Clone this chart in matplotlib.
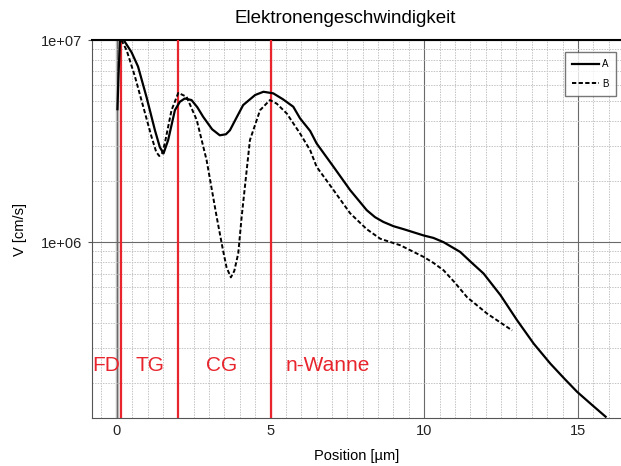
import numpy as np
import matplotlib
matplotlib.use("Agg")
import matplotlib.pyplot as plt
from matplotlib.ticker import FixedLocator, FuncFormatter, NullFormatter

plt.rcParams['font.family'] = ['Liberation Sans', 'DejaVu Sans']

# curve A (solid)
a_x = [0.02, 0.06, 0.10, 0.13, 0.30, 0.48, 0.69, 0.97, 1.24, 1.40, 1.52, 1.67, 1.89, 2.05,
       2.21, 2.43, 2.62, 2.81, 3.10, 3.35, 3.55, 3.68, 3.90, 4.11, 4.50, 4.77, 5.09, 5.40,
       5.74, 5.96, 6.29, 6.50, 7.05, 7.59, 8.13, 8.40, 8.67, 9.00, 9.33, 9.98, 10.30, 10.63,
       11.17, 11.55, 11.93, 12.48, 13.02, 13.56, 14.10, 14.55, 14.97, 15.45, 15.90]
a_y = [4.55e6, 7.0e6, 9.8e6, 1.05e7, 9.6e6, 8.7e6, 7.4e6, 5.2e6, 3.58e6, 2.95e6, 2.75e6,
       3.2e6, 4.5e6, 4.95e6, 5.14e6, 5.05e6, 4.65e6, 4.17e6, 3.62e6, 3.38e6, 3.42e6, 3.58e6,
       4.15e6, 4.77e6, 5.35e6, 5.55e6, 5.45e6, 5.1e6, 4.68e6, 4.1e6, 3.55e6, 3.08e6, 2.36e6,
       1.81e6, 1.44e6, 1.33e6, 1.26e6, 1.2e6, 1.16e6, 1.08e6, 1.05e6, 1.0e6, 8.95e5, 7.9e5,
       7.0e5, 5.47e5, 4.11e5, 3.15e5, 2.51e5, 2.12e5, 1.82e5, 1.57e5, 1.37e5]

# curve B (dashed)
b_x = [0.15, 0.32, 0.59, 0.86, 1.13, 1.28, 1.38, 1.47, 1.56, 1.78, 2.00, 2.27, 2.60, 2.92,
       3.25, 3.45, 3.57, 3.71, 3.82, 3.95, 4.06, 4.33, 4.66, 4.98, 5.20, 5.53, 5.96, 6.29,
       6.50, 7.05, 7.59, 8.13, 8.57, 9.22, 9.98, 10.30, 10.63, 11.00, 11.39, 12.04, 12.86]
b_y = [1.0e7, 8.9e6, 6.6e6, 4.68e6, 3.32e6, 2.8e6, 2.67e6, 2.75e6, 3.08e6, 4.5e6, 5.48e6,
       5.24e6, 4.02e6, 2.55e6, 1.33e6, 9.2e5, 7.5e5, 6.7e5, 7.2e5, 8.8e5, 1.33e6, 3.2e6,
       4.5e6, 5.05e6, 4.85e6, 4.33e6, 3.45e6, 2.85e6, 2.36e6, 1.81e6, 1.39e6, 1.16e6, 1.04e6,
       9.66e5, 8.46e5, 7.9e5, 7.26e5, 6.3e5, 5.35e5, 4.44e5, 3.66e5]

# region borders and labels
borders = [0.15, 2.0, 5.0]
region_names = ['FD', 'TG', 'CG', 'n-Wanne']
region_x = [-0.36, 1.07, 3.42, 6.87]
region_y = 2.46e5

fig = plt.figure(figsize=(6.21, 4.66), dpi=100)
ax = fig.add_axes([0.148, 0.103, 0.852, 0.811])

ax.set_yscale('log')
ax.set_xlim(-0.81, 16.4)
ax.set_ylim(1.35e5, 1e7)

# grid
ax.xaxis.set_major_locator(FixedLocator([0, 5, 10, 15]))
ax.xaxis.set_minor_locator(FixedLocator(np.arange(-0.5, 16.5, 0.5)))
ax.yaxis.set_major_locator(FixedLocator([1e6, 1e7]))
ax.yaxis.set_minor_locator(FixedLocator([m * 10**k for k in (5, 6) for m in range(2, 10)]))
ax.yaxis.set_major_formatter(FuncFormatter(lambda v, p: '1e+%02d' % int(round(np.log10(v)))))
ax.yaxis.set_minor_formatter(NullFormatter())
ax.grid(which='minor', color='#c4c4c4', linestyle=(0, (1.5, 1.2)), linewidth=0.7)
ax.grid(which='major', color='#6a6a6a', linestyle='-', linewidth=0.8)
ax.axvline(0, color='#c0c0c0', linewidth=2.5, zorder=1)

ax.tick_params(which='both', length=0, labelsize=10.5, colors='#222222', pad=4)
ax.tick_params(axis='y', which='major', length=3, color='#555555')

for b in borders:
    ax.axvline(b, color='#e8242c', linewidth=1.6, zorder=3)

ax.plot(a_x, a_y, color='black', linewidth=1.6, label='A', zorder=4)
ax.plot(b_x, b_y, color='black', linewidth=1.4, linestyle=(0, (2.2, 1.2)), label='B', zorder=4)

for name, xx in zip(region_names, region_x):
    ax.text(xx, region_y, name, color='#e8242c', fontsize=15, ha='center', va='center', zorder=5)

for side in ('left', 'bottom'):
    ax.spines[side].set_color('#555555')
ax.spines['top'].set_color('black')
ax.spines['top'].set_linewidth(1.5)
ax.spines['right'].set_visible(False)

leg = ax.legend(loc='upper right', bbox_to_anchor=(0.99, 0.968), fontsize=7, handlelength=2.8,
                frameon=True, fancybox=False, borderpad=0.7, labelspacing=1.0, handletextpad=0.3,
                borderaxespad=0)
leg.get_frame().set_edgecolor('#555555')
leg.get_frame().set_linewidth(1.0)

ax.set_title('Elektronengeschwindigkeit', fontsize=13.5, pad=12, x=0.478)
ax.set_xlabel('Position [µm]', fontsize=10.5, labelpad=8)
ax.set_ylabel('V [cm/s]', fontsize=10.5, labelpad=10)

fig.savefig('out.png', dpi=100)
